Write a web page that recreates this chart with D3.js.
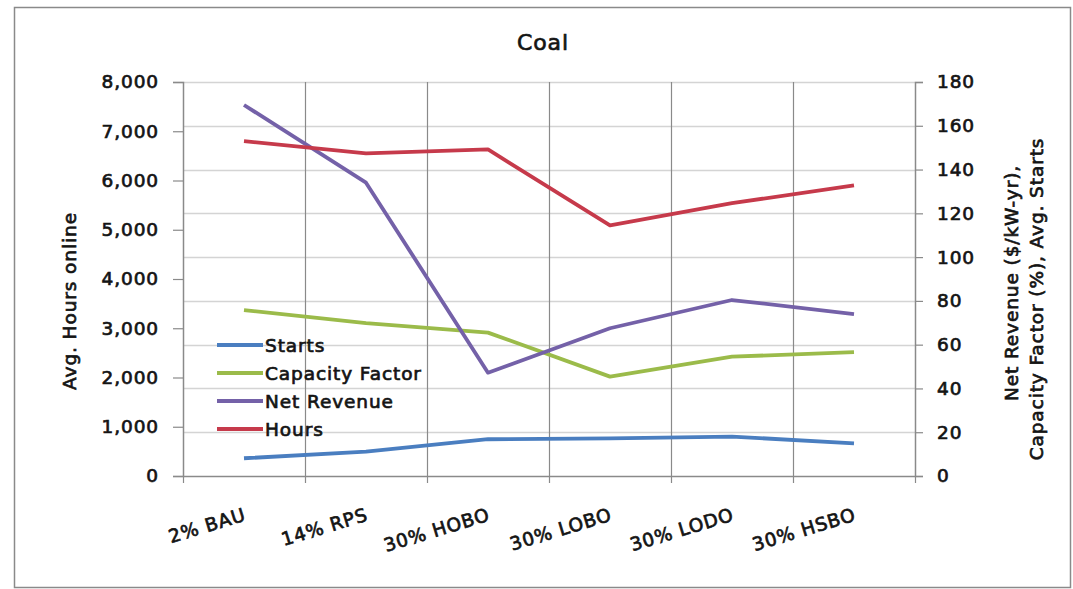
<!DOCTYPE html>
<html>
<head>
<meta charset="utf-8">
<script src="https://cdn.jsdelivr.net/npm/d3@7"></script>
<style>
  html, body { margin: 0; padding: 0; background: #ffffff; }
  svg { display: block; }
  text {
    font-family: "DejaVu Sans", "Noto Sans", sans-serif;
    font-weight: 400;
    fill: #141414;
    stroke: #141414;
    stroke-width: 0.7px;
    letter-spacing: 0.9px;
  }
</style>
</head>
<body>
<svg id="chart" width="1073" height="589"></svg>
<script>
// Scenario categories along the x axis
const categories = ["2% BAU", "14% RPS", "30% HOBO", "30% LOBO", "30% LODO", "30% HSBO"];

// Left axis: average hours online
const hours = [6800, 6550, 6630, 5090, 5540, 5900];

// Right axis: net revenue ($/kW-yr), capacity factor (%), average starts
const netRevenue = [169.5, 134, 47.2, 67.5, 80.4, 74];
const capacityFactor = [75.8, 69.8, 65.5, 45.4, 54.5, 56.6];
const starts = [8.1, 11.1, 16.8, 17.2, 18, 14.9];

const leftTicks = [0, 1000, 2000, 3000, 4000, 5000, 6000, 7000, 8000];
const rightTicks = [0, 20, 40, 60, 80, 100, 120, 140, 160, 180];

const series = [
  { name: "Starts", values: starts, axis: "right", color: "#4a7ec0" },
  { name: "Capacity Factor", values: capacityFactor, axis: "right", color: "#9bbb4a" },
  { name: "Net Revenue", values: netRevenue, axis: "right", color: "#7461a8" },
  { name: "Hours", values: hours, axis: "left", color: "#c63a4b" }
];

const svg = d3.select("#chart");
const plot = { left: 183, right: 915, top: 82, bottom: 476 };
const FS = 18.5;

// Outer frame
svg.append("rect")
  .attr("x", 14.5).attr("y", 7.5)
  .attr("width", 1056).attr("height", 580)
  .attr("fill", "#ffffff")
  .attr("stroke", "#8a8a8a").attr("stroke-width", 1.5);

const x = d3.scaleBand().domain(categories).range([plot.left, plot.right]).padding(0);
const yL = d3.scaleLinear().domain([0, 8000]).range([plot.bottom, plot.top]);
const yR = d3.scaleLinear().domain([0, 180]).range([plot.bottom, plot.top]);

// Horizontal gridlines follow the right axis
svg.append("g")
  .selectAll("line")
  .data(rightTicks.filter(d => d > 0))
  .join("line")
  .attr("x1", plot.left).attr("x2", plot.right)
  .attr("y1", d => Math.round(yR(d)) + 0.5).attr("y2", d => Math.round(yR(d)) + 0.5)
  .attr("stroke", "#d4d4d4").attr("stroke-width", 1.5);

// Vertical gridlines at category boundaries
svg.append("g")
  .selectAll("line")
  .data(categories.slice(1))
  .join("line")
  .attr("x1", d => Math.round(x(d)) + 0.5).attr("x2", d => Math.round(x(d)) + 0.5)
  .attr("y1", plot.top).attr("y2", plot.bottom + 7)
  .attr("stroke", "#8a8a8a").attr("stroke-width", 1.2);

function styleAxis(g) {
  g.select(".domain").attr("stroke", "#8a8a8a").attr("stroke-width", 1.5);
  g.selectAll(".tick line").attr("stroke", "#8a8a8a").attr("stroke-width", 1.2);
  g.selectAll(".tick text")
    .attr("font-size", FS)
    .attr("font-family", null)
    .attr("fill", null);
}

// Left axis
const gL = svg.append("g").attr("transform", `translate(${plot.left},0)`)
  .call(d3.axisLeft(yL).tickValues(leftTicks).tickFormat(d3.format(",")).tickSize(10).tickPadding(14));
styleAxis(gL);

// Right axis
const gR = svg.append("g").attr("transform", `translate(${plot.right},0)`)
  .call(d3.axisRight(yR).tickValues(rightTicks).tickSize(8).tickPadding(14));
styleAxis(gR);

// Bottom axis: line, ticks at boundaries and rotated labels
svg.append("line")
  .attr("x1", plot.left).attr("x2", plot.right)
  .attr("y1", plot.bottom + 0.5).attr("y2", plot.bottom + 0.5)
  .attr("stroke", "#8a8a8a").attr("stroke-width", 1.5);
svg.append("g")
  .selectAll("line")
  .data([plot.left, plot.right])
  .join("line")
  .attr("x1", d => d + 0.5).attr("x2", d => d + 0.5)
  .attr("y1", plot.bottom).attr("y2", plot.bottom + 7)
  .attr("stroke", "#8a8a8a").attr("stroke-width", 1.2);

svg.append("g")
  .selectAll("text")
  .data(categories)
  .join("text")
  .attr("transform", d => `translate(${x(d) + x.bandwidth() / 2 + 3},${plot.bottom + 44}) rotate(-17)`)
  .attr("text-anchor", "end")
  .attr("font-size", FS)
  .text(d => d);

// Series lines
const line = (scale) => d3.line()
  .x((d, i) => x(categories[i]) + x.bandwidth() / 2)
  .y(d => scale(d));

svg.append("g")
  .selectAll("path")
  .data(series)
  .join("path")
  .attr("d", s => line(s.axis === "left" ? yL : yR)(s.values))
  .attr("fill", "none")
  .attr("stroke", s => s.color)
  .attr("stroke-width", 3.8)
  .attr("stroke-linejoin", "round");

// Legend
const legend = svg.append("g").attr("transform", "translate(217,345)");
const items = legend.selectAll("g").data(series).join("g")
  .attr("transform", (d, i) => `translate(0,${i * 28})`);
items.append("line")
  .attr("x1", 0).attr("x2", 46).attr("y1", 0).attr("y2", 0)
  .attr("stroke", d => d.color).attr("stroke-width", 4);
items.append("text")
  .attr("x", 48).attr("y", 0).attr("dy", "0.36em")
  .attr("font-size", FS)
  .text(d => d.name);

// Title
svg.append("text")
  .attr("x", 543).attr("y", 50)
  .attr("text-anchor", "middle")
  .attr("font-size", 22)
  .text("Coal");

// Left axis title
svg.append("text")
  .attr("transform", "translate(76,301) rotate(-90)")
  .attr("text-anchor", "middle")
  .attr("font-size", FS)
  .text("Avg. Hours online");

// Right axis title (two lines)
svg.append("text")
  .attr("transform", "translate(1018,283) rotate(-90)")
  .attr("text-anchor", "middle")
  .attr("font-size", FS)
  .text("Net Revenue ($/kW-yr),");
svg.append("text")
  .attr("transform", "translate(1043,299) rotate(-90)")
  .attr("text-anchor", "middle")
  .attr("font-size", FS)
  .text("Capacity Factor (%), Avg. Starts");
</script>
</body>
</html>
